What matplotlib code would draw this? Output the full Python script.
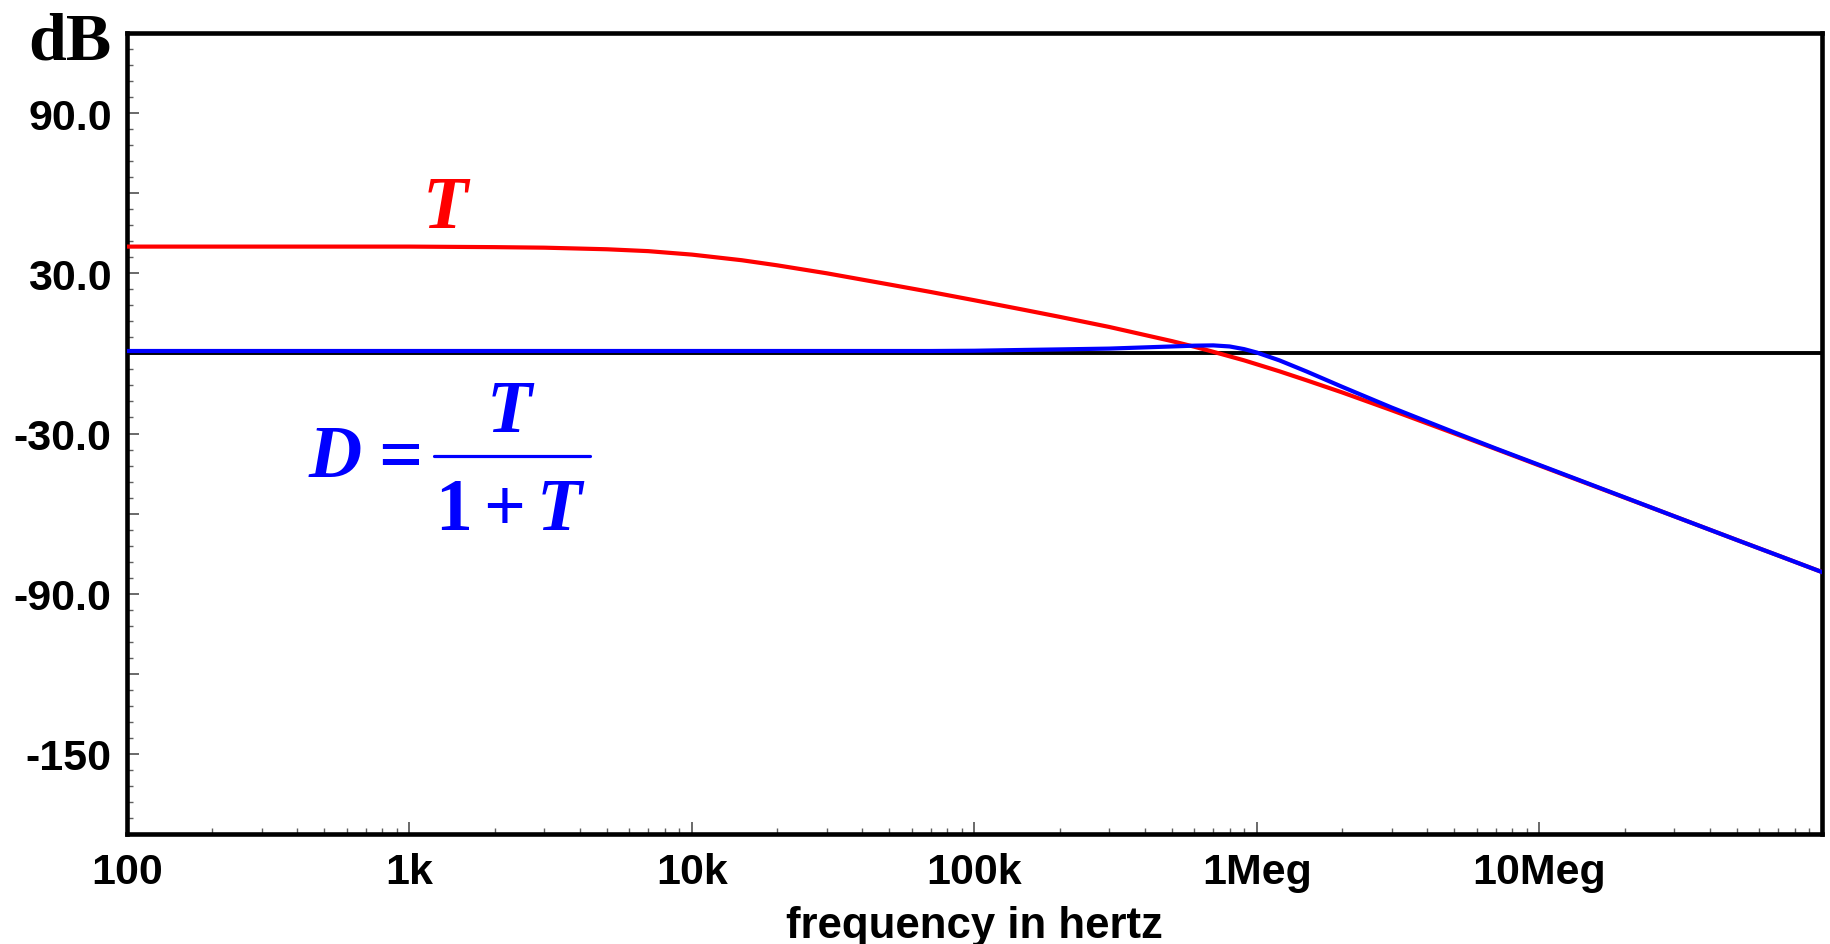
import matplotlib
matplotlib.use("Agg")
import matplotlib.pyplot as plt
from matplotlib.lines import Line2D
from matplotlib.ticker import FixedLocator, FixedFormatter, LogLocator, NullFormatter

# =========================
# DATA
# =========================
freq_hz = [100, 200, 500, 1e3, 2e3, 3e3, 5e3, 7e3, 1e4, 1.5e4, 2e4, 3e4,
           5e4, 7e4, 1e5, 1.5e5, 2e5, 3e5, 5e5, 6e5, 7e5, 8e5, 9e5, 1e6,
           1.2e6, 1.5e6, 2e6, 3e6, 5e6, 7e6, 1e7, 2e7, 3e7, 5e7, 7e7, 1e8]

# loop gain T (dB)
t_db = [40.0, 40.0, 40.0, 40.0, 39.8, 39.6, 39.0, 38.3, 37.0, 34.9, 33.0, 30.0,
        25.8, 23.0, 19.9, 16.3, 13.7, 9.9, 4.6, 2.5, 0.6, -1.1, -2.6, -4.1,
        -6.7, -10.1, -14.6, -21.3, -30.0, -35.8, -42.0, -54.0, -61.0, -69.9, -75.7, -81.9]

# D = T/(1+T) (dB)
d_db = [0.9, 0.9, 0.9, 0.9, 0.9, 0.9, 0.9, 0.9, 0.9, 0.9, 0.9, 0.9,
        0.9, 0.9, 1.0, 1.3, 1.5, 1.8, 2.6, 2.9, 3.0, 2.6, 1.6, 0.3,
        -2.6, -6.8, -12.5, -20.3, -29.6, -35.6, -41.8, -53.9, -61.0, -69.9, -75.7, -81.9]

xtick_vals = [1e2, 1e3, 1e4, 1e5, 1e6, 1e7]
xtick_labels = ["100", "1k", "10k", "100k", "1Meg", "10Meg"]
ytick_vals = [120, 90, 60, 30, 0, -30, -60, -90, -120, -150, -180]
ytick_labels = ["", "90.0", "", "30.0", "", "-30.0", "", "-90.0", "", "-150", ""]

# =========================
# STYLE
# =========================
plt.rcParams["font.family"] = ["Liberation Sans", "DejaVu Sans"]
plt.rcParams["font.weight"] = "bold"
plt.rcParams["mathtext.fontset"] = "custom"
plt.rcParams["mathtext.it"] = "Liberation Serif:italic:bold"
plt.rcParams["mathtext.rm"] = "Liberation Serif:bold"
plt.rcParams["mathtext.bf"] = "Liberation Serif:bold"

W, H = 1831, 945
fig = plt.figure(figsize=(W / 100, H / 100), dpi=100)
ax = fig.add_axes([127 / W, 110 / H, 1695 / W, 801 / H])


def fx(px):
    return px / W


def fy(py):
    return 1 - py / H


# =========================
# CURVES
# =========================
ax.axhline(0, color="black", lw=2.8, zorder=2)
ax.plot(freq_hz, t_db, color="#ff0000", lw=3.0, zorder=3)
ax.plot(freq_hz, d_db, color="#0000ff", lw=3.0, zorder=4)

ax.set_xscale("log")
ax.set_xlim(100, 1e8)
ax.set_ylim(-180, 120)

# =========================
# AXES / TICKS
# =========================
for s in ax.spines.values():
    s.set_linewidth(3.3)
    s.set_color("black")

ax.xaxis.set_major_locator(FixedLocator(xtick_vals))
ax.xaxis.set_major_formatter(FixedFormatter(xtick_labels))
ax.xaxis.set_minor_locator(LogLocator(base=10, subs=range(2, 10)))
ax.xaxis.set_minor_formatter(NullFormatter())

ax.yaxis.set_major_locator(FixedLocator(ytick_vals))
ax.yaxis.set_major_formatter(FixedFormatter(ytick_labels))
ax.yaxis.set_minor_locator(FixedLocator(range(-180, 121, 6)))

ax.tick_params(which="major", direction="in", length=8.6, width=1.2,
               color="#505050", labelsize=31, pad=11)
ax.tick_params(which="minor", direction="in", length=4.3, width=1.0,
               color="#606060")
ax.tick_params(axis="x", which="major", pad=13)

fig.text(fx(974), fy(938), "frequency in hertz", ha="center",
         va="baseline", fontsize=31.5, fontweight="bold")
fig.text(fx(28), fy(59), "dB", ha="left", va="baseline",
         family="Liberation Serif", fontweight="bold", fontsize=49)

# =========================
# ANNOTATIONS
# =========================
BLUE = "#0000ff"
ax.text(1350, 47.5, r"$T$", color="#ff0000", fontsize=53,
        ha="center", va="baseline")

fig.text(fx(335), fy(477), r"$D$", color=BLUE, fontsize=53,
         ha="center", va="baseline")
fig.text(fx(393), fy(458), r"$=$", color=BLUE, fontsize=56,
         ha="center", va="center")
fig.text(fx(511), fy(432), r"$T$", color=BLUE, fontsize=53,
         ha="center", va="baseline")
fig.text(fx(511), fy(530), r"$1+T$", color=BLUE, fontsize=53,
         ha="center", va="baseline")
fig.add_artist(Line2D([fx(434), fx(590)], [fy(457), fy(457)],
                      transform=fig.transFigure, color=BLUE, lw=2.3,
                      solid_capstyle="round"))

fig.savefig("out.png", dpi=100)
